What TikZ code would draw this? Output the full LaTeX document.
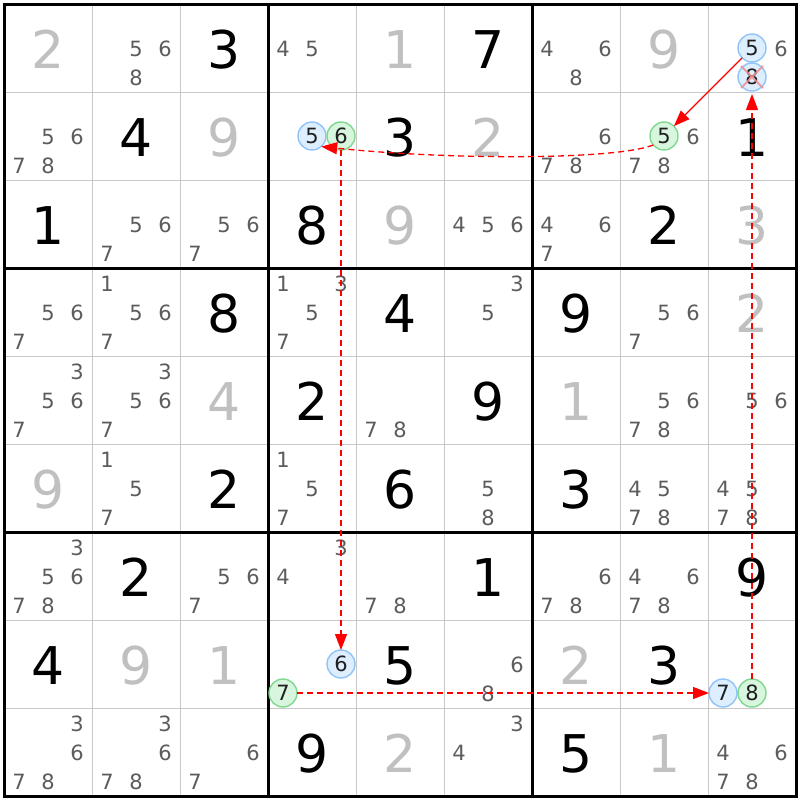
\documentclass[tikz,border=0pt]{standalone}
\usepackage{fontspec}
\setmainfont{DejaVu Sans}
\usetikzlibrary{arrows.meta}
\definecolor{cgray}{HTML}{C0C0C0}
\definecolor{candc}{HTML}{5C5C5C}
\definecolor{gridc}{HTML}{C8C8C8}
\definecolor{bstroke}{HTML}{90C4F8}
\definecolor{bfill}{HTML}{DDEEFF}
\definecolor{gstroke}{HTML}{80D890}
\definecolor{gfill}{HTML}{D8F5DE}
\definecolor{xred}{HTML}{F09090}
\tikzset{
  thingrid/.style={gridc, line width=1.5pt},
  thickgrid/.style={black, line width=3pt},
  bigdig/.style={inner sep=0pt, font=\fontsize{52}{52}\selectfont},
  cnd/.style={inner sep=0pt, text=candc, font=\fontsize{21}{21}\selectfont},
  hcirc/.style={circle, minimum size=28pt, inner sep=0pt, outer sep=0pt, line width=1.4pt, text=black!88, font=\fontsize{21}{21}\selectfont},
  bluec/.style={hcirc, draw=bstroke, fill=bfill},
  greenc/.style={hcirc, draw=gstroke, fill=gfill},
  link/.style={red, line width=1.3pt, -{Triangle[length=16pt,width=12pt]}},
  weak/.style={link, dash pattern=on 6pt off 4pt}
}
\newcommand\bigd[4]{\node[bigdig,text=#4] (d#1-#2) at ({48.5+88*#2},{49.5+88*#1}) {#3};}
\newcommand\cand[3]{\foreach \k in {#3}{\node[cnd] (c#1-#2-\k) at ({19+88*#2+29*mod(\k-1,3)},{20+88*#1+29*int((\k-1)/3)}) {\k};}}
\newcommand\hc[4]{\node[#4] (h#1-#2-#3) at ({19+88*#2+29*mod(#3-1,3)},{19+88*#1+29*int((#3-1)/3)}) {#3};}
\begin{document}
\begin{tikzpicture}[x=1pt,y=-1pt]
\useasboundingbox (0,0) rectangle (800,800);
\fill[white] (0,0) rectangle (800,800);
% grid
\foreach \i in {1,2,4,5,7,8}{
  \draw[thingrid] ({4.5+88*\i},4.5) -- ({4.5+88*\i},796.5);
  \draw[thingrid] (4.5,{4.5+88*\i}) -- (796.5,{4.5+88*\i});
}
\foreach \i in {0,3,6,9}{
  \draw[thickgrid] ({4.5+88*\i},3) -- ({4.5+88*\i},798);
  \draw[thickgrid] (3,{4.5+88*\i}) -- (798,{4.5+88*\i});
}
% row 0
\bigd{0}{0}{2}{cgray} \cand{0}{1}{5,6,8} \bigd{0}{2}{3}{black} \cand{0}{3}{4,5}
\bigd{0}{4}{1}{cgray} \bigd{0}{5}{7}{black} \cand{0}{6}{4,6,8} \bigd{0}{7}{9}{cgray} \cand{0}{8}{6}
% row 1
\cand{1}{0}{5,6,7,8} \bigd{1}{1}{4}{black} \bigd{1}{2}{9}{cgray} \bigd{1}{4}{3}{black}
\bigd{1}{5}{2}{cgray} \cand{1}{6}{6,7,8} \cand{1}{7}{6,7,8} \bigd{1}{8}{1}{black}
% row 2
\bigd{2}{0}{1}{black} \cand{2}{1}{5,6,7} \cand{2}{2}{5,6,7} \bigd{2}{3}{8}{black}
\bigd{2}{4}{9}{cgray} \cand{2}{5}{4,5,6} \cand{2}{6}{4,6,7} \bigd{2}{7}{2}{black} \bigd{2}{8}{3}{cgray}
% row 3
\cand{3}{0}{5,6,7} \cand{3}{1}{1,5,6,7} \bigd{3}{2}{8}{black} \cand{3}{3}{1,3,5,7}
\bigd{3}{4}{4}{black} \cand{3}{5}{3,5} \bigd{3}{6}{9}{black} \cand{3}{7}{5,6,7} \bigd{3}{8}{2}{cgray}
% row 4
\cand{4}{0}{3,5,6,7} \cand{4}{1}{3,5,6,7} \bigd{4}{2}{4}{cgray} \bigd{4}{3}{2}{black}
\cand{4}{4}{7,8} \bigd{4}{5}{9}{black} \bigd{4}{6}{1}{cgray} \cand{4}{7}{5,6,7,8} \cand{4}{8}{5,6}
% row 5
\bigd{5}{0}{9}{cgray} \cand{5}{1}{1,5,7} \bigd{5}{2}{2}{black} \cand{5}{3}{1,5,7}
\bigd{5}{4}{6}{black} \cand{5}{5}{5,8} \bigd{5}{6}{3}{black} \cand{5}{7}{4,5,7,8} \cand{5}{8}{4,5,7,8}
% row 6
\cand{6}{0}{3,5,6,7,8} \bigd{6}{1}{2}{black} \cand{6}{2}{5,6,7} \cand{6}{3}{3,4}
\cand{6}{4}{7,8} \bigd{6}{5}{1}{black} \cand{6}{6}{6,7,8} \cand{6}{7}{4,6,7,8} \bigd{6}{8}{9}{black}
% row 7
\bigd{7}{0}{4}{black} \bigd{7}{1}{9}{cgray} \bigd{7}{2}{1}{cgray} \bigd{7}{4}{5}{black}
\cand{7}{5}{6,8} \bigd{7}{6}{2}{cgray} \bigd{7}{7}{3}{black}
% row 8
\cand{8}{0}{3,6,7,8} \cand{8}{1}{3,6,7,8} \cand{8}{2}{6,7} \bigd{8}{3}{9}{black}
\bigd{8}{4}{2}{cgray} \cand{8}{5}{3,4} \bigd{8}{6}{5}{black} \bigd{8}{7}{1}{cgray} \cand{8}{8}{4,6,7,8}
% highlighted candidates
\hc{0}{8}{5}{bluec} \hc{0}{8}{8}{bluec}
\hc{1}{3}{5}{bluec} \hc{1}{3}{6}{greenc}
\hc{1}{7}{5}{greenc}
\hc{7}{3}{6}{bluec} \hc{7}{3}{7}{greenc}
\hc{7}{8}{7}{bluec} \hc{7}{8}{8}{greenc}
% elimination cross
\draw[xred, line width=2pt, opacity=0.85] ([shift={(-11,-11)}]h0-8-8.center) -- ([shift={(11,11)}]h0-8-8.center);
\draw[xred, line width=2pt, opacity=0.85] ([shift={(-11,11)}]h0-8-8.center) -- ([shift={(11,-11)}]h0-8-8.center);
% links
\draw[link] (h0-8-5) -- (h1-7-5);
\draw[weak] (h1-7-5.220) .. controls (615,160) and (450,160) .. (h1-3-5.311);
\draw[weak] (h1-3-6) -- (h7-3-6);
\draw[weak] (h7-3-7) -- (h7-8-7);
\draw[weak, shorten >=3pt] (h7-8-8) -- (h0-8-8);
\end{tikzpicture}
\end{document}
